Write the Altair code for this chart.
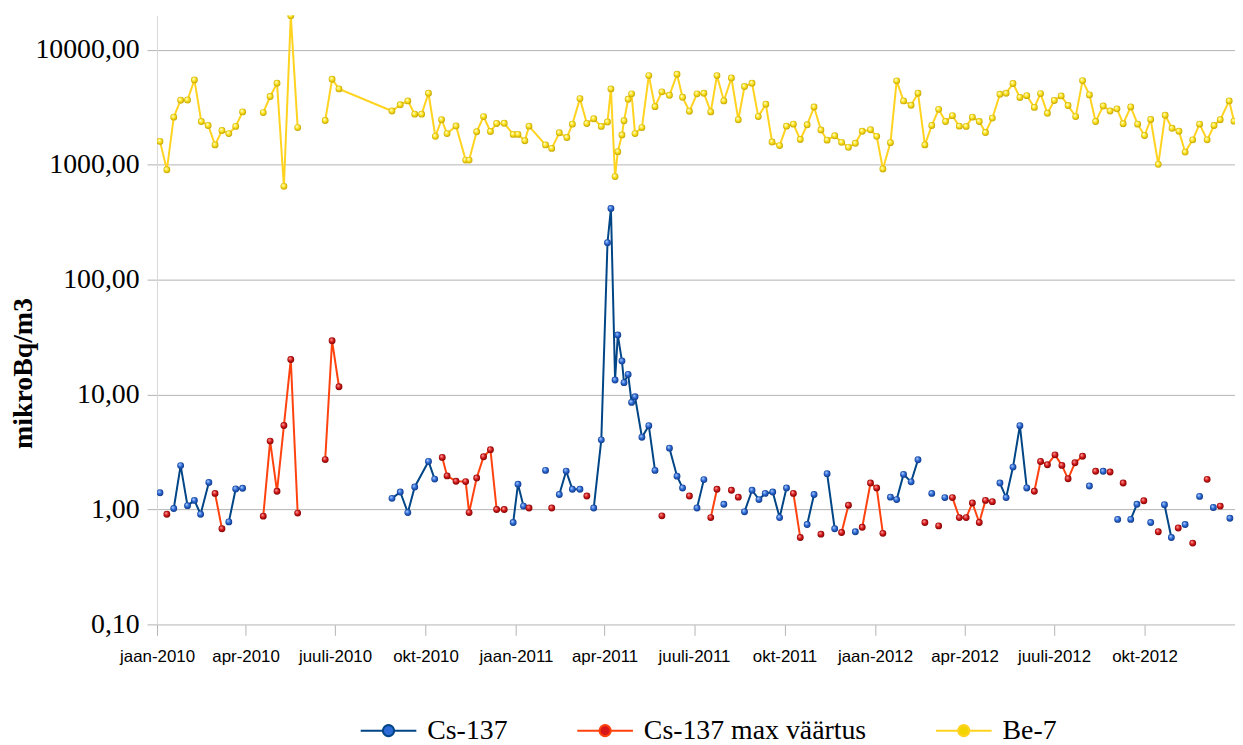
import math
import altair as alt
import pandas as pd

# ---------------- data (week number counted from Monday 2010-01-04; None = break in line)
series_names = ["Cs-137", "Cs-137 max väärtus", "Be-7"]
line_colors = ["#004586", "#ff420e", "#ffd320"]
marker_colors = ["#2c6ad6", "#d81818", "#f2d500"]

be7_week = [
    0, 1, 2, 3, 4, 5, 6, 7, 8, 9, 10, 11, 12, None,
    15, 16, 17, 18, 19, 20, None,
    24, 25, 26,
    33.7, 34.9, 36, 37, 38, 39, 40,
    40.9, 41.7, 43, 44.4, 44.9, 46, 47, 48, 48.9, 50,
    51.3, 52, 53, 53.6, 56, 56.9, 58, 59.1, 59.9, 61,
    62, 63, 64.1, 65, 65.5, 66.1, 66.5, 67.1, 67.4, 68,
    68.5, 69, 70, 71, 71.9, 72.9, 74, 75.1, 75.9, 76.9,
    78, 79, 80, 80.9, 81.9, 83, 84, 84.9, 86, 86.9,
    88, 88.9, 90, 91, 92, 93, 94, 95, 96, 96.9,
    98, 99, 100, 101, 102, 103.2, 104.1, 105, 106.1, 107,
    108, 109.1, 110.1, 111.1, 112.1, 113.1, 114.1, 115.1, 116.1, 117.1,
    118, 119, 119.9, 120.9, 122, 122.9, 123.9, 124.9, 125.9, 127,
    127.9, 128.9, 129.9, 130.9, 131.9, 133, 134, 135, 135.9, 137,
    138, 139, 139.9, 141, 142, 143, 143.9, 145, 146, 147,
    148, 148.9, 150, 151, 152.1, 153.1, 154, 155.3, 156,
]
be7_value = [
    1600, 905, 2600, 3650, 3670, 5480, 2380, 2200, 1490, 1990, 1870, 2160, 2890, None,
    2850, 3930, 5130, 650, 19800, 2110, None,
    2430, 5560, 4580,
    2940, 3330, 3600, 2760, 2760, 4200, 1770,
    2470, 1870, 2180, 1100, 1100, 1940, 2630, 1950, 2290, 2300,
    1840, 1840, 1620, 2170, 1490, 1390, 1900, 1730, 2260, 3770,
    2290, 2520, 2160, 2360, 4580, 790, 1300, 1820, 2420, 3720,
    4150, 1870, 2110, 5980, 3210, 4320, 4030, 6140, 3870, 2930,
    4150, 4200, 2890, 5980, 3600, 5700, 2470, 4800, 5130, 2630,
    3370, 1580, 1470, 2170, 2260, 1660, 2230, 3190, 2010, 1640,
    1790, 1570, 1420, 1540, 1960, 2020, 1770, 920, 1560, 5380,
    3600, 3300, 4200, 1490, 2200, 3040, 2380, 2680, 2170, 2160,
    2600, 2380, 1910, 2550, 4110, 4200, 5100, 3860, 4000, 3160,
    4170, 2810, 3630, 3980, 3280, 2630, 5410, 4060, 2380, 3250,
    2940, 3070, 2280, 3190, 2260, 1800, 2480, 1010, 2700, 2080,
    1960, 1290, 1650, 2260, 1650, 2200, 2470, 3600, 2400,
]

cs_week = [
    0, None,
    2, 3, 4, 5, 5.9, 7.1, None,
    10, 11, 12, None,
    33.7, 34.9, 36, 37, 39, 39.9, None,
    51.3, 52, 52.8, None,
    56, None,
    58, 59, 59.9, 61, None,
    63, 64.1, 65, 65.5, 66.1, 66.5, 67.1, 67.4, 68, 68.5, 69, 70, 71, 71.9, None,
    74, 75.1, 75.9, None,
    78, 79, None,
    81.9, None,
    84.9, 86, 87, 87.9, 89, 90, 91, None,
    94, 95, None,
    96.9, 98, None,
    101, None,
    106.1, 107, 108, 109.1, 110.1, None,
    112.1, None,
    114, None,
    122, 122.9, 123.9, 124.9, 125.9, None,
    135, None, 137, None, 139.1, None,
    141, 141.9, None,
    143.9, None,
    145.9, 146.9, None,
    148.9, None, 151, None, 153, None, 155.4,
]
cs_value = [
    1.40, None,
    1.02, 2.41, 1.08, 1.20, 0.91, 1.72, None,
    0.78, 1.51, 1.53, None,
    1.25, 1.42, 0.94, 1.57, 2.62, 1.84, None,
    0.77, 1.66, 1.07, None,
    2.19, None,
    1.35, 2.16, 1.50, 1.50, None,
    1.03, 4.04, 210, 417, 13.4, 33.0, 19.6, 12.7, 15.0, 8.55, 9.57, 4.26, 5.37, 2.19, None,
    3.42, 1.95, 1.54, None,
    1.03, 1.82, None,
    1.11, None,
    0.955, 1.47, 1.22, 1.38, 1.42, 0.85, 1.54, None,
    0.74, 1.35, None,
    2.05, 0.68, None,
    0.64, None,
    1.28, 1.22, 2.02, 1.74, 2.71, None,
    1.38, None,
    1.27, None,
    1.70, 1.27, 2.34, 5.37, 1.54, None,
    1.60, None, 2.15, None, 0.82, None,
    0.82, 1.11, None,
    0.77, None,
    1.10, 0.57, None,
    0.74, None, 1.30, None, 1.04, None, 0.84,
]

max_week = [
    1, None,
    8, 9, None,
    15, 16, 17, 18, 19, 20, None,
    24, 25, 26, None,
    41, 41.7, 43, 44.4, 44.9, 46, 47, 48, 48.9, 50, None,
    53.6, None, 56.9, None, 62, None, 72.9, None, 76.9, None,
    80, 80.9, None,
    83, None, 84, None,
    92, 93, None,
    96, None,
    99, 100, None,
    102, 103.2, 104.1, 105, None,
    111.1, None, 113.1, None,
    115.1, 116.1, 117.1, 118, 119, 119.9, 120.9, None,
    127, 127.9, 128.9, 130, 131, 131.9, 132.9, 134, None,
    135.9, None, 138, None, 139.9, None, 142.9, None, 145, None,
    147.9, None, 150, None, 152.1, None, 154,
]
max_value = [
    0.91, None,
    1.38, 0.68, None,
    0.875, 3.94, 1.44, 5.38, 20.2, 0.93, None,
    2.72, 29.4, 11.7, None,
    2.84, 1.96, 1.76, 1.75, 0.94, 1.88, 2.88, 3.31, 1.0, 1.0, None,
    1.03, None, 1.03, None, 1.31, None, 0.88, None, 1.31, None,
    0.85, 1.50, None,
    1.47, None, 1.28, None,
    1.38, 0.57, None,
    0.61, None,
    0.63, 1.09, None,
    0.70, 1.70, 1.54, 0.62, None,
    0.77, None, 0.72, None,
    1.27, 0.85, 0.85, 1.14, 0.77, 1.20, 1.17, None,
    1.44, 2.62, 2.45, 2.99, 2.42, 1.85, 2.55, 2.91, None,
    2.15, None, 2.12, None, 1.70, None, 1.19, None, 0.64, None,
    0.69, None, 0.51, None, 1.83, None, 1.07,
]

y_ticks = [0.1, 1, 10, 100, 1000, 10000]

# ---------------- table
start = pd.Timestamp("2010-01-04")
epoch = pd.Timestamp("1970-01-01")


def build(name, weeks, values):
    assert len(weeks) == len(values), name
    out, seg = [], 0
    for w, v in zip(weeks, values):
        if v is None:
            seg += 1
            continue
        t = start + pd.Timedelta(days=7 * w)
        out.append({"series": name,
                    "t": int((t - epoch) / pd.Timedelta(milliseconds=1)),
                    "v": v, "seg": f"{name}-{seg}"})
    return out


df = pd.DataFrame(build(series_names[0], cs_week, cs_value)
                  + build(series_names[1], max_week, max_value)
                  + build(series_names[2], be7_week, be7_value))

# ---------------- styling helpers
def sphere(hi, mid, lo):
    return alt.RadialGradient(
        gradient="radial",
        stops=[alt.GradientStop(offset=0, color=hi),
               alt.GradientStop(offset=0.5, color=mid),
               alt.GradientStop(offset=1, color=lo)],
        x1=0.35, y1=0.3, r1=0.02, x2=0.5, y2=0.5, r2=0.55)


sphere_fills = [sphere("#b8d4ff", "#2c6ad6", "#0a2f78"),
                sphere("#ffb0b0", "#d81818", "#6e0000"),
                sphere("#ffffe8", "#ffe41a", "#b59600")]

# legend symbol: a line with a gap, and a round marker in the gap
r = 0.2
circle_path = "M" + "L".join(
    f"{r*math.cos(2*math.pi*k/24):.3f},{r*math.sin(2*math.pi*k/24):.3f}" for k in range(24)) + "Z"
legend_path = f"M-1,0L{-r},0M{r},0L1,0" + circle_path

legend_common = dict(orient="none", legendX=204, legendY=691,
                     direction="horizontal", symbolSize=3136,
                     symbolType=legend_path, symbolStrokeWidth=2,
                     symbolOpacity=1, labelOpacity=1, labelLimit=500,
                     labelFont="Liberation Serif", labelFontSize=28,
                     labelColor="black", labelOffset=10, columnPadding=66,
                     padding=0)

month_expr = ("(utcmonth(datum.value)==0?'jaan':utcmonth(datum.value)==3?'apr':"
              "utcmonth(datum.value)==6?'juuli':'okt')")

quarters = [alt.DateTime(year=yy, month=m, date=1, utc=True)
            for yy in (2010, 2011, 2012) for m in (1, 4, 7, 10)]

x = alt.X("t:T", title=None,
          scale=alt.Scale(type="utc",
                          domain=[alt.DateTime(year=2010, month=1, date=1, utc=True),
                                  alt.DateTime(year=2013, month=1, date=1, utc=True)]),
          axis=alt.Axis(values=quarters,
                        labelExpr=month_expr + " + '-' + utcyear(datum.value)",
                        grid=False, tickSize=11, tickColor="#b3b3b3",
                        domainColor="#d9d9d9", labelFont="Liberation Sans",
                        labelFontSize=17, labelColor="black", labelPadding=13,
                        labelFlush=False, labelOverlap=False))

y = alt.Y("v:Q", title="mikroBq/m3",
          scale=alt.Scale(type="log", domain=[0.1, 20000], nice=False),
          axis=alt.Axis(values=y_ticks,
                        labelExpr="replace(format(datum.value, '.2f'), '.', ',')",
                        labelFont="Liberation Serif", labelFontSize=28,
                        labelColor="black", labelPadding=8, tickSize=10,
                        tickColor="#b3b3b3", domainColor="#d9d9d9",
                        grid=True, gridColor="#b3b3b3", gridWidth=1,
                        titleFont="Liberation Serif", titleFontSize=28,
                        titleFontWeight="bold", titleColor="black",
                        titleAngle=270, titleAlign="center",
                        titleBaseline="alphabetic", titleX=-126, titleY=360))

base = alt.Chart(df)

lines = base.mark_line(strokeWidth=2, clip=True).encode(
    x=x, y=y,
    color=alt.Color("series:N", title=None,
                    scale=alt.Scale(domain=series_names, range=line_colors),
                    legend=alt.Legend(**legend_common)),
    detail="seg:N",
)

# invisible layer whose fill scale gives the legend markers their colour
legend_markers = base.mark_circle(opacity=0, size=1).encode(
    x=x, y=y,
    fill=alt.Fill("series:N", title=None,
                  scale=alt.Scale(domain=series_names, range=marker_colors),
                  legend=alt.Legend(**legend_common)),
)

point_layers = [
    base.transform_filter(alt.datum.series == name)
        .mark_circle(size=48, opacity=1, fill=fill, clip=True)
        .encode(x=x, y=y)
    for name, fill in zip(series_names, sphere_fills)
]

chart = alt.layer(lines, legend_markers, *point_layers).properties(
    width=1085, height=613,
    padding={"left": 150, "top": 5, "right": 0, "bottom": 119},
    autosize=alt.AutoSizeParams(type="none"),
    background="white",
).configure_view(strokeWidth=0)

chart.save("out.html", embed_options={"renderer": "svg", "actions": False})
